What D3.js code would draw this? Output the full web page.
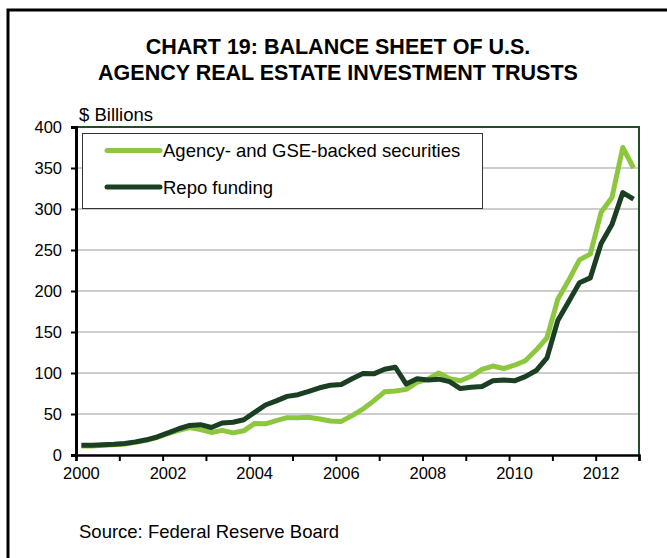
<!DOCTYPE html>
<html>
<head>
<meta charset="utf-8">
<script src="https://cdn.jsdelivr.net/npm/d3@7/dist/d3.min.js"></script>
<style>
  html, body { margin: 0; padding: 0; background: #ffffff; }
  svg { display: block; font-family: "Liberation Sans", Arial, sans-serif; }
</style>
</head>
<body>
<svg id="chart" width="667" height="558"></svg>
<script>
// Quarterly observations, 2000 Q1 through 2012 Q4 ($ billions)
const quarters = d3.range(2000, 2013).flatMap(y => [1, 2, 3, 4].map(q => `${y}Q${q}`));

const agencySecurities = [
  11, 11, 12, 12.5, 13.5, 15.5, 18, 21.5, 26, 30, 33.5, 31, 27.5,
  30, 27, 29.5, 38.5, 38, 42, 45.5, 45.5, 46, 44, 41.5, 41, 48,
  56, 66, 77, 78, 80, 88.5, 92.5, 100, 93, 90.5, 96, 104.5, 108.5,
  105.5, 109.5, 115, 128, 143, 190, 213, 238, 245, 296, 314, 375, 350
];

const repoFunding = [
  12, 12, 12.5, 13, 14, 16, 18.5, 22, 27, 32, 36, 37, 33.5,
  39, 40, 43, 52, 61, 66, 71.5, 73.5, 77.5, 82, 85, 86, 93,
  99.5, 99, 104.5, 107, 86.5, 93, 91.5, 92.5, 89.5, 81, 82.5, 83.5, 90.5,
  91.5, 90.5, 95.5, 103, 118.5, 164, 187, 210, 216, 258, 281, 320, 312
];

const seriesNames = ["Agency- and GSE-backed securities", "Repo funding"];
const yTickValues = [0, 50, 100, 150, 200, 250, 300, 350, 400];
const xTickYears = [2000, 2001, 2002, 2003, 2004, 2005, 2006, 2007, 2008, 2009, 2010, 2011, 2012, 2013];
const xLabelYears = [2000, 2002, 2004, 2006, 2008, 2010, 2012];

const colors = { agency: "#8dc63f", repo: "#1b3f22", frame: "#234d28", grid: "#bdbdbd" };

// Quarter label -> decimal year at the middle of the quarter
const quarterTime = s => +s.slice(0, 4) + (+s.slice(5) - 0.5) / 4;

const svg = d3.select("#chart");
const plot = { left: 76, right: 639, top: 127, bottom: 455 };

const x = d3.scaleLinear().domain([2000, 2013]).range([plot.left, plot.right]);
const y = d3.scaleLinear().domain([0, 400]).range([plot.bottom, plot.top]);

// Outer frame (left and top edges)
svg.append("path")
  .attr("d", "M8,558 L8,10 L667,10")
  .attr("fill", "none")
  .attr("stroke", "#000")
  .attr("stroke-width", 3);

// Title
const title = svg.append("text")
  .attr("text-anchor", "middle")
  .attr("font-weight", "bold")
  .attr("font-size", 21.5)
  .attr("fill", "#000");
title.append("tspan").attr("x", 338).attr("y", 54).text("CHART 19: BALANCE SHEET OF U.S.");
title.append("tspan").attr("x", 338).attr("y", 80).text("AGENCY REAL ESTATE INVESTMENT TRUSTS");

// Units label
svg.append("text")
  .attr("x", 79).attr("y", 121)
  .attr("font-size", 18.5)
  .text("$ Billions");

// Horizontal gridlines
svg.append("g")
  .selectAll("line")
  .data(yTickValues.filter(v => v > 0 && v < 400))
  .join("line")
  .attr("x1", plot.left).attr("x2", plot.right)
  .attr("y1", d => y(d)).attr("y2", d => y(d))
  .attr("stroke", colors.grid)
  .attr("stroke-width", 1.5);

// Plot frame: top and right edges
svg.append("path")
  .attr("d", `M${plot.left},${plot.top} L${plot.right},${plot.top} L${plot.right},${plot.bottom}`)
  .attr("fill", "none")
  .attr("stroke", colors.frame)
  .attr("stroke-width", 2);

// Y axis
const yAxis = svg.append("g")
  .attr("transform", `translate(${plot.left},0)`)
  .call(d3.axisLeft(y).tickValues(yTickValues).tickSize(5).tickPadding(9).tickFormat(d3.format("d")));
yAxis.select(".domain").attr("stroke", "#000").attr("stroke-width", 3);
yAxis.selectAll(".tick line").attr("stroke", "#000").attr("stroke-width", 2);
yAxis.selectAll(".tick text").attr("font-size", 16.5).attr("font-family", "Liberation Sans, Arial, sans-serif").attr("fill", "#000");

// X axis: a tick at each year boundary, labels on every other year's first quarter
const xAxis = svg.append("g")
  .attr("transform", `translate(0,${plot.bottom})`)
  .call(d3.axisBottom(x).tickValues(xTickYears).tickSize(6).tickFormat(""));
xAxis.select(".domain").attr("stroke", "#000").attr("stroke-width", 2.5);
xAxis.selectAll(".tick line").attr("stroke", "#000").attr("stroke-width", 2);

svg.append("g")
  .selectAll("text")
  .data(xLabelYears)
  .join("text")
  .attr("x", d => x(d + 0.125))
  .attr("y", plot.bottom + 24)
  .attr("text-anchor", "middle")
  .attr("font-size", 16.5)
  .text(d => d);

// Series lines
const line = d3.line()
  .x((d, i) => x(quarterTime(quarters[i])))
  .y(d => y(d));

svg.append("path")
  .datum(agencySecurities)
  .attr("d", line)
  .attr("fill", "none")
  .attr("stroke", colors.agency)
  .attr("stroke-width", 5)
  .attr("stroke-linejoin", "round");

svg.append("path")
  .datum(repoFunding)
  .attr("d", line)
  .attr("fill", "none")
  .attr("stroke", colors.repo)
  .attr("stroke-width", 5)
  .attr("stroke-linejoin", "round");

// Legend
const legend = svg.append("g");
legend.append("rect")
  .attr("x", 82.5).attr("y", 133.5)
  .attr("width", 400).attr("height", 75)
  .attr("fill", "#fff")
  .attr("stroke", "#333")
  .attr("stroke-width", 1);

const legendItems = [
  { name: seriesNames[0], color: colors.agency, y: 150.5 },
  { name: seriesNames[1], color: colors.repo, y: 187 }
];
legendItems.forEach(item => {
  legend.append("line")
    .attr("x1", 107).attr("x2", 160)
    .attr("y1", item.y).attr("y2", item.y)
    .attr("stroke", item.color)
    .attr("stroke-width", 5)
    .attr("stroke-linecap", "round");
  legend.append("text")
    .attr("x", 163).attr("y", item.y + 6.5)
    .attr("font-size", 18.5)
    .text(item.name);
});

// Source note
svg.append("text")
  .attr("x", 79).attr("y", 538)
  .attr("font-size", 18.5)
  .text("Source: Federal Reserve Board");
</script>
</body>
</html>
